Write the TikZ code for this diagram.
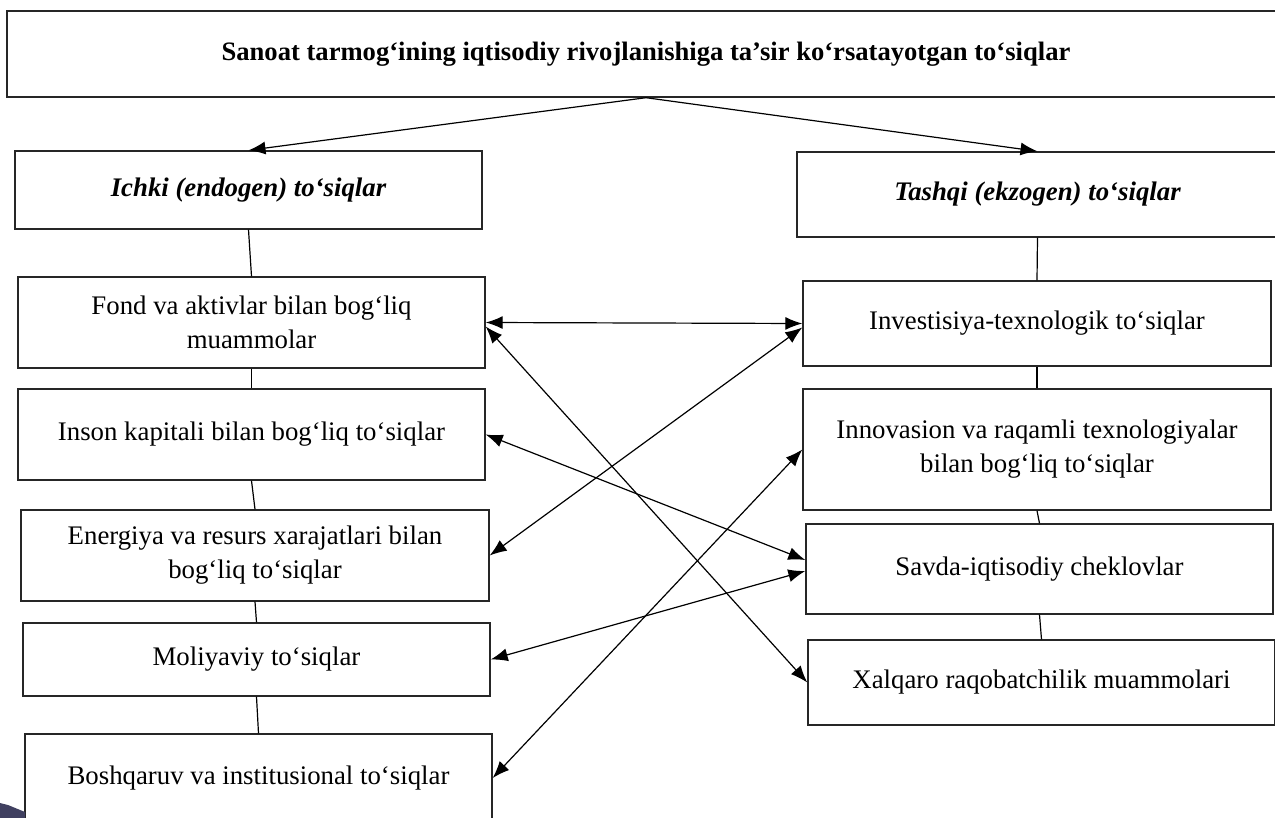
\documentclass[tikz,border=0pt]{standalone}
\usepackage{fontspec}
\setmainfont{Liberation Serif}
\usetikzlibrary{arrows.meta}
\tikzset{
  box/.style={draw=black!85, line width=1.4pt, rectangle, inner sep=0pt, align=center,
    font=\fontsize{26.8}{34}\selectfont},
  link/.style={draw=black, line width=1.2pt},
  arr/.style={link, -{Latex[length=17pt,width=13pt]}},
  darr/.style={link, {Latex[length=17pt,width=13pt]}-{Latex[length=17pt,width=13pt]}},
}
\begin{document}
\begin{tikzpicture}[x=1pt,y=-1pt]
\useasboundingbox (0,0) rectangle (1275,818);
\clip (0,0) rectangle (1275,818);
\fill[white] (0,0) rectangle (1275,818);
% boxes
\node[box, minimum width=1278pt, minimum height=86pt, font=\fontsize{26.6}{34}\selectfont\bfseries] (top) at (646,54)
  {Sanoat tarmog‘ining iqtisodiy rivojlanishiga ta’sir ko‘rsatayotgan to‘siqlar};
\node[box, minimum width=467pt, minimum height=78pt, font=\fontsize{26.8}{34}\selectfont\bfseries\itshape] (ichki) at (248.5,190)
  {Ichki (endogen) to‘siqlar};
\node[box, minimum width=467pt, minimum height=91pt] (fond) at (251.5,322.5)
  {Fond va aktivlar bilan bog‘liq\\muammolar};
\node[box, minimum width=467pt, minimum height=91pt] (inson) at (251.5,434.5)
  {Inson kapitali bilan bog‘liq to‘siqlar};
\node[box, minimum width=468pt, minimum height=91pt] (energ) at (255,555.5)
  {Energiya va resurs xarajatlari bilan\\bog‘liq to‘siqlar};
\node[box, minimum width=467pt, minimum height=73pt] (moliya) at (256.5,659.5)
  {Moliyaviy to‘siqlar};
\node[box, minimum width=467pt, minimum height=88pt] (boshq) at (258.5,778)
  {Boshqaruv va institusional to‘siqlar};
\node[box, minimum width=481pt, minimum height=85pt, font=\fontsize{26.8}{34}\selectfont\bfseries\itshape] (tashqi) at (1037.5,194.5)
  {Tashqi (ekzogen) to‘siqlar};
\node[box, minimum width=468pt, minimum height=85pt] (invest) at (1037,323.5)
  {Investisiya-texnologik to‘siqlar};
\node[box, minimum width=468pt, minimum height=121pt] (innov) at (1037,449.5)
  {Innovasion va raqamli texnologiyalar\\bilan bog‘liq to‘siqlar};
\node[box, minimum width=467pt, minimum height=90pt] (savda) at (1039.5,569)
  {Savda-iqtisodiy cheklovlar};
\node[box, minimum width=467pt, minimum height=85pt] (xalq) at (1041.5,682.5)
  {Xalqaro raqobatchilik muammolari};
% top arrows
\draw[arr] (top.south) -- (ichki.north);
\draw[arr] (top.south) -- (tashqi.north);
% vertical links
\draw[link] (ichki.south) -- (fond.north);
\draw[link] (fond.south) -- (inson.north);
\draw[link] (inson.south) -- (energ.north);
\draw[link] (energ.south) -- (moliya.north);
\draw[link] (moliya.south) -- (boshq.north);
\draw[link] (tashqi.south) -- (invest.north);
\draw[link] (invest.south) -- (innov.north);
\draw[link] (innov.south) -- (savda.north);
\draw[link] (savda.south) -- (xalq.north);
% cross arrows
\draw[darr] (fond.east) -- (invest.west);
\draw[darr] (energ.east) -- ([yshift=-4pt]invest.west);
\draw[darr] ([yshift=-4pt]fond.east) -- (xalq.west);
\draw[darr] (inson.east) -- ([yshift=9pt]savda.west);
\draw[darr] (moliya.east) -- ([yshift=-2pt]savda.west);
\draw[darr] (boshq.east) -- (innov.west);
% corner artefact
\fill[black!75!blue!50!gray] (0,803) -- (8,805) -- (25,812) -- (25,818) -- (0,818) -- cycle;
\end{tikzpicture}
\end{document}
